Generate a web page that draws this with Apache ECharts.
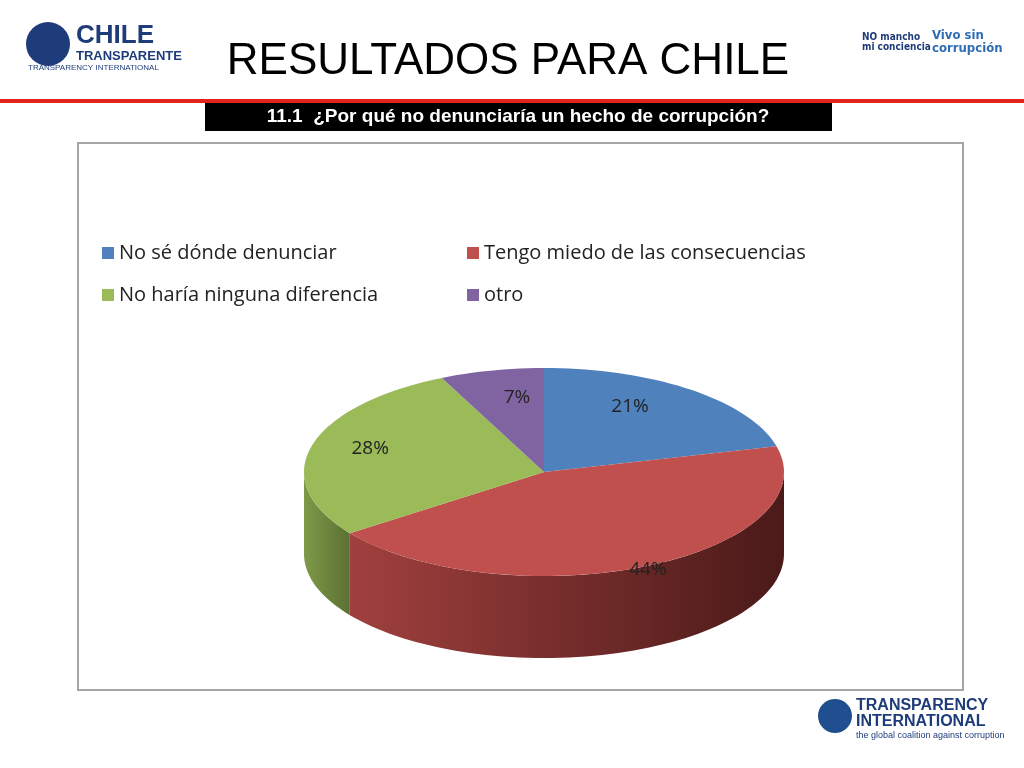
<!DOCTYPE html><html><head><meta charset="utf-8">
<script src="https://cdn.jsdelivr.net/npm/echarts@6/dist/echarts.min.js"></script>
<style>html,body{margin:0;background:#fff}#c{width:1024px;height:768px}</style></head><body><div id="c"></div>
<script>
const categories=['No sé dónde denunciar','Tengo miedo de las consecuencias','No haría ninguna diferencia','otro'];
const values=[21,44,28,7];
const labels=['21%','44%','28%','7%'];
const colors=['#4f81bd','#c0504d','#9bbb59','#8064a2'];
const darks=[['#2c4a70','#3d6594'],['#4a1a19','#a0403e'],['#5b7033','#7e9a48'],['#4b3b60','#6b5389']];
const CX=544,CY=472,RX=240,RY=104,D=82;
const total=values.reduce((a,b)=>a+b,0);
let acc=0;const slices=values.map(v=>{const s=acc/total*360;acc+=v;return [s,acc/total*360];});
function pt(t,dy){const r=t*Math.PI/180;return [CX+RX*Math.sin(r),CY-RY*Math.cos(r)+(dy||0)];}
function arc(a,b,dy){const p=[];const n=Math.max(2,Math.ceil((b-a)/2));for(let i=0;i<=n;i++)p.push(pt(a+(b-a)*i/n,dy));return p;}
const lf=[[0.585,0.79],[1.017,1.04],[0.748,0.888],[0.516,0.73]];
const series=[];
series.push({type:'custom',coordinateSystem:'none',silent:true,data:values.map((v,i)=>i),z:1,
 renderItem:(p,api)=>{const i=api.value(0);const [s,e]=slices[i];const ch=[];
  const a=Math.max(s,90),b=Math.min(e,270);
  if(b>a){const top=arc(a,b,0),bot=arc(a,b,D).reverse();
   ch.push({type:'polygon',shape:{points:top.concat(bot)},style:{fill:new echarts.graphic.LinearGradient(0,0,1,0,[{offset:0,color:darks[i][1]},{offset:1,color:darks[i][0]}])}});}
  return {type:'group',children:ch};}});
categories.forEach((name,i)=>{
 series.push({type:'custom',name,coordinateSystem:'none',silent:true,data:[i],z:2,itemStyle:{color:colors[i]},
  renderItem:(p,api)=>{const [s,e]=slices[i];const pts=[[CX,CY]].concat(arc(s,e,0));
   const m=(s+e)/2*Math.PI/180;
   return {type:'group',children:[{type:'polygon',shape:{points:pts},style:{fill:colors[i]}},
    {type:'text',style:{text:labels[i],x:CX+RX*lf[i][0]*Math.sin(m),y:CY-RY*lf[i][1]*Math.cos(m),fill:'#222',font:'19px "Open Sans"',align:'center',verticalAlign:'middle'}}]};}});
});
const chart=echarts.init(document.getElementById('c'));
const lt={fontFamily:'Open Sans',fontSize:20,color:'#222'};
chart.setOption({animation:false,
 legend:[{left:97,top:238,orient:'vertical',itemGap:22,icon:'rect',itemWidth:12,itemHeight:12,textStyle:lt,data:[categories[0],categories[2]],selectedMode:false},
  {left:462,top:238,orient:'vertical',itemGap:22,icon:'rect',itemWidth:12,itemHeight:12,textStyle:lt,data:[categories[1],categories[3]],selectedMode:false}],
 graphic:[
  {type:'rect',shape:{x:78,y:143,width:885,height:547},style:{fill:'none',stroke:'#a6a6a6',lineWidth:2},z:-1},
  {type:'rect',shape:{x:0,y:99,width:1024,height:4},style:{fill:'#e2231a'}},
  {type:'rect',shape:{x:205,y:103,width:627,height:28},style:{fill:'#000'}},
  {type:'text',style:{text:'11.1  ¿Por qué no denunciaría un hecho de corrupción?',x:518,y:117,align:'center',verticalAlign:'middle',fill:'#fff',font:'bold 19px "Liberation Sans"'}},
  {type:'text',style:{text:'RESULTADOS PARA CHILE',x:508,y:62,align:'center',verticalAlign:'middle',fill:'#000',font:'44px "Liberation Sans"'}},
  {type:'circle',shape:{cx:48,cy:44,r:22},style:{fill:'#1f3c7a'}},
  {type:'text',style:{text:'CHILE',x:76,y:36,verticalAlign:'middle',fill:'#1f3c7a',font:'bold 26px "Liberation Sans"'}},
  {type:'text',style:{text:'TRANSPARENTE',x:76,y:56,verticalAlign:'middle',fill:'#1f3c7a',font:'bold 13px "Liberation Sans"'}},
  {type:'text',style:{text:'TRANSPARENCY INTERNATIONAL',x:28,y:68,verticalAlign:'middle',fill:'#1f3c7a',font:'8px "Liberation Sans"'}},
  {type:'text',style:{text:'NO mancho\nmi conciencia',x:862,y:42,verticalAlign:'middle',fill:'#1f3c7a',font:'bold 10px "DejaVu Sans Condensed"'}},
  {type:'text',style:{text:'Vivo sin\ncorrupción',x:932,y:42,verticalAlign:'middle',fill:'#2e6db4',font:'bold 13px "DejaVu Sans Condensed"'}},
  {type:'circle',shape:{cx:835,cy:716,r:17},style:{fill:'#1f4f8f'}},
  {type:'text',style:{text:'TRANSPARENCY',x:856,y:706,verticalAlign:'middle',fill:'#1f3c7a',font:'bold 16px "Liberation Sans"'}},
  {type:'text',style:{text:'INTERNATIONAL',x:856,y:722,verticalAlign:'middle',fill:'#1f3c7a',font:'bold 16px "Liberation Sans"'}},
  {type:'text',style:{text:'the global coalition against corruption',x:856,y:736,verticalAlign:'middle',fill:'#1f3c7a',font:'9px "Liberation Sans"'}}
 ],
 series});
</script></body></html>
